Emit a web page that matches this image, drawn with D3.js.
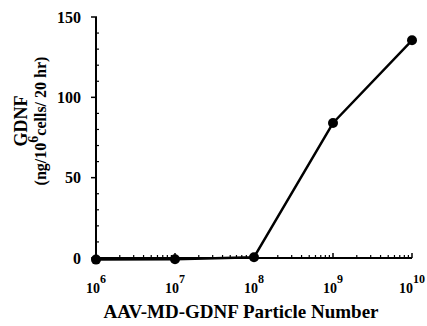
<!DOCTYPE html>
<html><head><meta charset="utf-8">
<script src="https://cdn.jsdelivr.net/npm/d3@7"></script>
<style>body{margin:0;background:#fff}svg{display:block}</style>
</head><body>
<script>
const exponents = [6, 7, 8, 9, 10];
const gdnf = [-1, -0.8, 0.5, 84, 135.5];
const yTicks = [0, 50, 100, 150];
const yMinorTicks = [10, 20, 30, 40, 60, 70, 80, 90, 110, 120, 130, 140];

const W = 427, H = 326;
const svg = d3.select("body").append("svg").attr("width", W).attr("height", H);
const font = "'Liberation Serif','Times New Roman',serif";

const x = d3.scaleLog().domain([1e6, 1e10]).range([96, 412]);
const y = d3.scaleLinear().domain([0, 150]).range([258, 17]);

const g = svg.append("g");
g.append("line").attr("x1", 96).attr("x2", 96).attr("y1", y(150)).attr("y2", y(0))
  .attr("stroke", "#000").attr("stroke-width", 2);
g.append("line").attr("x1", 96).attr("x2", 412).attr("y1", y(0)).attr("y2", y(0))
  .attr("stroke", "#000").attr("stroke-width", 2);

g.selectAll(".ymaj").data(yTicks).join("line")
  .attr("x1", 91).attr("x2", 97).attr("y1", d => y(d)).attr("y2", d => y(d))
  .attr("stroke", "#000").attr("stroke-width", 1.5);
g.selectAll(".ymin").data(yMinorTicks).join("line")
  .attr("x1", 96).attr("x2", 99).attr("y1", d => y(d)).attr("y2", d => y(d))
  .attr("stroke", "#000").attr("stroke-width", 1.2);
g.selectAll(".ylab").data(yTicks).join("text")
  .attr("x", 81).attr("y", d => y(d)).attr("dy", "0.35em")
  .attr("text-anchor", "end").attr("font-family", font).attr("font-weight", "bold")
  .attr("font-size", 16).text(d => d);

const minor = [];
for (let e = 6; e < 10; e++) for (let m = 2; m <= 9; m++) minor.push(m * Math.pow(10, e));
g.selectAll(".xmin").data(minor).join("line")
  .attr("x1", d => x(d)).attr("x2", d => x(d)).attr("y1", y(0)).attr("y2", y(0) - 3)
  .attr("stroke", "#000").attr("stroke-width", 1.2);
g.selectAll(".xmaj").data(exponents).join("line")
  .attr("x1", d => x(Math.pow(10, d))).attr("x2", d => x(Math.pow(10, d)))
  .attr("y1", y(0)).attr("y2", y(0) - 5)
  .attr("stroke", "#000").attr("stroke-width", 1.5);

const xl = g.selectAll(".xlab").data(exponents).join("text")
  .attr("x", d => x(Math.pow(10, d))).attr("y", 293)
  .attr("text-anchor", "middle").attr("font-family", font).attr("font-weight", "bold")
  .attr("font-size", 14);
xl.append("tspan").text("10");
xl.append("tspan").attr("dy", -10).attr("font-size", 12).text(d => d);

const pts = exponents.map((e, i) => [Math.pow(10, e), gdnf[i]]);
g.append("path").datum(pts)
  .attr("d", d3.line().x(d => x(d[0])).y(d => y(d[1])))
  .attr("fill", "none").attr("stroke", "#000").attr("stroke-width", 2.4);
g.selectAll(".pt").data(pts).join("circle")
  .attr("cx", d => x(d[0])).attr("cy", d => y(d[1])).attr("r", 5).attr("fill", "#000");

svg.append("text").attr("x", 241).attr("y", 318).attr("text-anchor", "middle")
  .attr("font-family", font).attr("font-weight", "bold").attr("font-size", 19)
  .text("AAV-MD-GDNF Particle Number");

const yt = svg.append("g").attr("transform", "translate(0,121) rotate(-90)");
yt.append("text").attr("x", 0).attr("y", 27).attr("text-anchor", "middle")
  .attr("font-family", font).attr("font-weight", "bold").attr("font-size", 18).text("GDNF");
const yt2 = yt.append("text").attr("x", 0).attr("y", 46).attr("text-anchor", "middle")
  .attr("font-family", font).attr("font-weight", "bold").attr("font-size", 16);
yt2.append("tspan").text("(ng/10");
yt2.append("tspan").attr("dy", -8).attr("font-size", 14).text("6");
yt2.append("tspan").attr("dy", 8).text("cells/ 20 hr)");
</script>
</body></html>
